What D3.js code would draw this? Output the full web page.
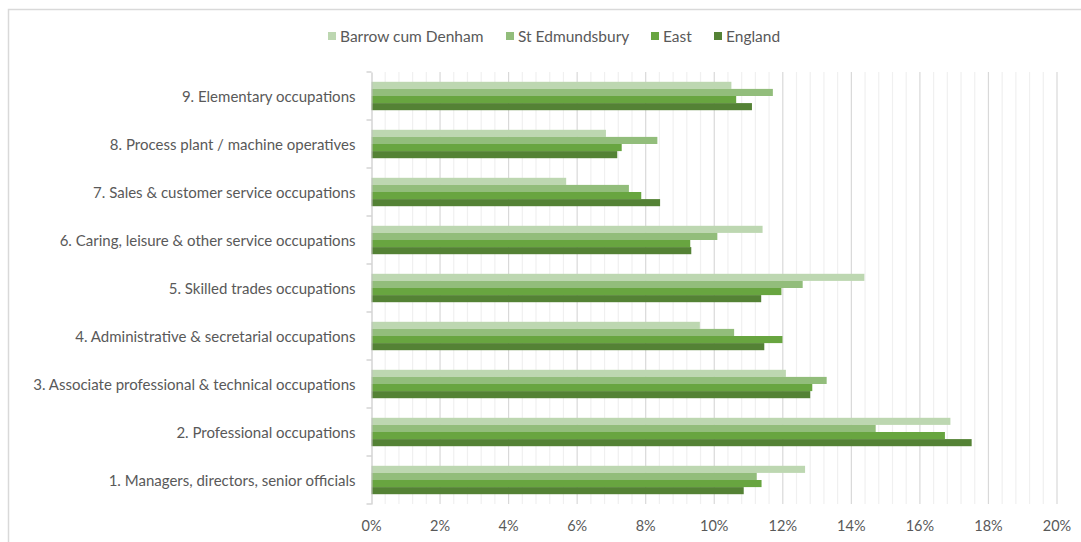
<!DOCTYPE html>
<html>
<head>
<meta charset="utf-8">
<script src="https://cdn.jsdelivr.net/npm/d3@7"></script>
<style>
  body { margin: 0; background: #fff; }
  svg { display: block; font-family: Lato, "Noto Sans", sans-serif; }
</style>
</head>
<body>
<svg id="chart" width="1081" height="542"></svg>
<script>
// occupations, bottom (1) to top (9)
const categories = [
  "1. Managers, directors, senior officials",
  "2. Professional occupations",
  "3. Associate professional & technical occupations",
  "4. Administrative & secretarial occupations",
  "5. Skilled trades occupations",
  "6. Caring, leisure & other service occupations",
  "7. Sales & customer service occupations",
  "8. Process plant / machine operatives",
  "9. Elementary occupations"
]
const seriesNames = ["Barrow cum Denham", "St Edmundsbury", "East", "England"]
const seriesColors = ["#bdd7b1", "#92bd7b", "#68a540", "#548235"]

// percent values, same order as categories
const barrow      = [12.65, 16.89, 12.09, 9.58, 14.38, 11.41, 5.68, 6.84, 10.50]
const stEdmunds   = [11.24, 14.71, 13.28, 10.58, 12.58, 10.09, 7.51, 8.34, 11.71]
const east        = [11.38, 16.73, 12.86, 11.99, 11.96, 9.30, 7.87, 7.30, 10.64]
const england     = [10.86, 17.51, 12.80, 11.46, 11.37, 9.33, 8.42, 7.17, 11.10]
const xTicks = [0, 2, 4, 6, 8, 10, 12, 14, 16, 18, 20]

const allSeries = [barrow, stEdmunds, east, england]

const svg = d3.select("#chart")
const plotLeft = 371.5, plotRight = 1057, plotTop = 72, plotBottom = 504

// outer chart border
svg.append("rect")
   .attr("x", 8.5).attr("y", 9.5)
   .attr("width", 1100).attr("height", 600)
   .attr("fill", "none")
   .attr("stroke", "#d9d9d9")
   .attr("stroke-width", 1.5)

const x = d3.scaleLinear().domain([0, 20]).range([plotLeft, plotRight])

// top category at the top
const y = d3.scaleBand()
            .domain(categories.slice().reverse())
            .range([plotTop, plotBottom])

const inner = d3.scaleBand()
                .domain(seriesNames)
                .range([0, y.bandwidth()])
                .paddingOuter(1.38)

// minor gridlines every 0.4%
svg.append("g")
   .selectAll("line")
   .data(d3.range(0, 20.001, 0.4).filter(v => Math.abs(v / 2 - Math.round(v / 2)) > 0.01))
   .join("line")
   .attr("x1", d => x(d)).attr("x2", d => x(d))
   .attr("y1", plotTop).attr("y2", plotBottom)
   .attr("stroke", "#f0f0f0")
   .attr("stroke-width", 1.2)

// major gridlines
svg.append("g")
   .selectAll("line")
   .data(xTicks.slice(1))
   .join("line")
   .attr("x1", d => x(d)).attr("x2", d => x(d))
   .attr("y1", plotTop).attr("y2", plotBottom)
   .attr("stroke", "#d9d9d9")
   .attr("stroke-width", 1.2)

// bars
const groups = svg.append("g")
                  .selectAll("g")
                  .data(categories)
                  .join("g")
                  .attr("transform", d => "translate(0," + y(d) + ")")

groups.selectAll("rect")
      .data((d, i) => seriesNames.map((s, k) => ({ s: s, k: k, v: allSeries[k][i] })))
      .join("rect")
      .attr("x", x(0))
      .attr("y", d => inner(d.s))
      .attr("width", d => x(d.v) - x(0))
      .attr("height", inner.bandwidth())
      .attr("fill", d => seriesColors[d.k])

// y axis
const yAxis = svg.append("g")
                 .attr("transform", "translate(" + plotLeft + ",0)")
                 .call(d3.axisLeft(y).tickSize(0).tickPadding(16))
yAxis.select(".domain").attr("stroke", "#bfbfbf")
yAxis.selectAll("text")
     .attr("fill", "#595959")
     .attr("font-size", "15px")
     .attr("font-family", "Lato, sans-serif")
     .attr("dy", "0.4em")

// tick marks on band edges
svg.append("g")
   .selectAll("line")
   .data(d3.range(categories.length + 1))
   .join("line")
   .attr("x1", plotLeft - 5).attr("x2", plotLeft)
   .attr("y1", d => plotTop + d * y.step())
   .attr("y2", d => plotTop + d * y.step())
   .attr("stroke", "#bfbfbf")

// x labels
svg.append("g")
   .selectAll("text")
   .data(xTicks)
   .join("text")
   .attr("x", d => x(d))
   .attr("y", 531)
   .attr("text-anchor", "middle")
   .attr("fill", "#595959")
   .attr("font-size", "14.5px")
   .text(d => d + "%")

// legend
const legendX = [328, 506, 651, 714]
const legend = svg.append("g")
                  .selectAll("g")
                  .data(seriesNames)
                  .join("g")
                  .attr("transform", (d, i) => "translate(" + legendX[i] + ",36)")
legend.append("rect")
      .attr("x", 0).attr("y", -4)
      .attr("width", 8).attr("height", 8)
      .attr("fill", (d, i) => seriesColors[i])
legend.append("text")
      .attr("x", 12).attr("y", 5.5)
      .attr("fill", "#595959")
      .attr("font-size", "15.5px")
      .text(d => d)
</script>
</body>
</html>
